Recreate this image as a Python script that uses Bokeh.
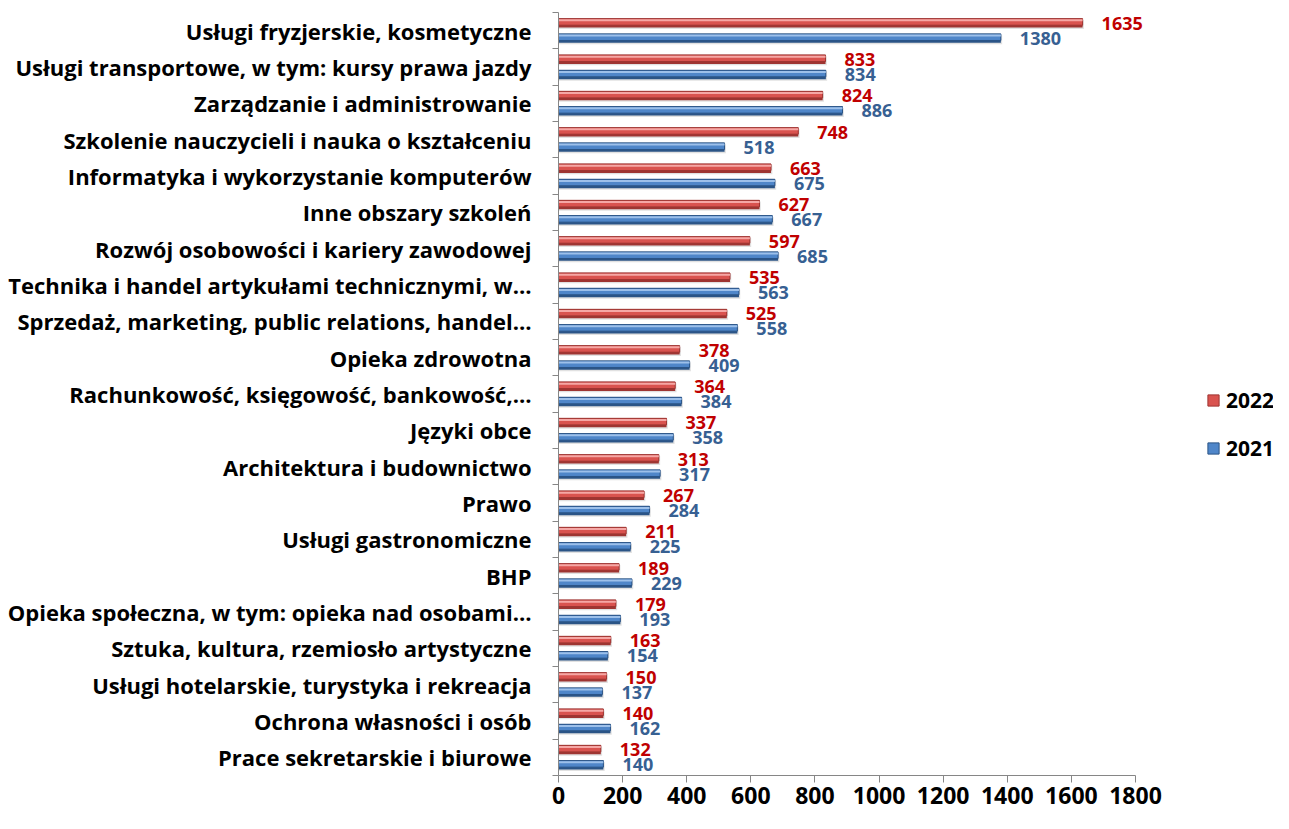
from bokeh.plotting import figure
from bokeh.models import (ColumnDataSource, Range1d, FixedTicker, LabelSet,
                          Legend, LegendItem)
from bokeh.core.properties import value
from bokeh.embed import file_html
from bokeh.resources import INLINE

categories = [
    "Usługi fryzjerskie, kosmetyczne",
    "Usługi transportowe, w tym: kursy prawa jazdy",
    "Zarządzanie i administrowanie",
    "Szkolenie nauczycieli i nauka o kształceniu",
    "Informatyka i wykorzystanie komputerów",
    "Inne obszary szkoleń",
    "Rozwój osobowości i kariery zawodowej",
    "Technika i handel artykułami technicznymi, w…",
    "Sprzedaż, marketing, public relations, handel…",
    "Opieka zdrowotna",
    "Rachunkowość, księgowość, bankowość,…",
    "Języki obce",
    "Architektura i budownictwo",
    "Prawo",
    "Usługi gastronomiczne",
    "BHP",
    "Opieka społeczna, w tym: opieka nad osobami…",
    "Sztuka, kultura, rzemiosło artystyczne",
    "Usługi hotelarskie, turystyka i rekreacja",
    "Ochrona własności i osób",
    "Prace sekretarskie i biurowe",
]
values_2022 = [1635, 833, 824, 748, 663, 627, 597, 535, 525, 378, 364, 337,
               313, 267, 211, 189, 179, 163, 150, 140, 132]
values_2021 = [1380, 834, 886, 518, 675, 667, 685, 563, 558, 409, 384, 358,
               317, 284, 225, 229, 193, 154, 137, 162, 140]
series_names = ["2022", "2021"]
x_ticks = [0, 200, 400, 600, 800, 1000, 1200, 1400, 1600, 1800]

n = len(categories)
centers = [n - 1 - i for i in range(n)]
OFF = 0.21
H = 0.25
FONT = "Open Sans"

W, HT = 1273, 813
LEFT = 558
AXIS_PX = 577            # pixel length of the 0..1800 axis
X_MAX = x_ticks[-1]
x_end = X_MAX * (W - LEFT) / AXIS_PX   # frame extends right to hold the legend

y22 = [c + OFF for c in centers]
y21 = [c - OFF for c in centers]
src22 = ColumnDataSource(dict(y=y22, v=values_2022,
                              lab=[str(v) for v in values_2022]))
src21 = ColumnDataSource(dict(y=y21, v=values_2021,
                              lab=[str(v) for v in values_2021]))

p = figure(width=W, height=HT, output_backend="svg", toolbar_location=None,
           x_range=Range1d(0, x_end), y_range=Range1d(-0.5, n - 0.5),
           min_border_left=LEFT, min_border_right=0, min_border_top=12,
           min_border_bottom=38)
p.outline_line_color = None
p.xgrid.visible = False
p.ygrid.visible = False


def layers(values, ys, dark, mid, light):
    s_sh = ColumnDataSource(dict(y=[y - 0.04 for y in ys], v=[v + 4 for v in values]))
    s_dk = ColumnDataSource(dict(y=ys, v=values))
    s_md = ColumnDataSource(dict(y=[y + H * 0.12 for y in ys], v=values))
    s_lt = ColumnDataSource(dict(y=[y + H * 0.30 for y in ys], v=values))
    p.hbar(y="y", right="v", left=0, height=H, source=s_sh,
           fill_color="#9A9A9A", fill_alpha=0.3, line_color=None)
    p.hbar(y="y", right="v", left=0, height=H, source=s_dk,
           fill_color=dark, line_color=None)
    r = p.hbar(y="y", right="v", left=0, height=H * 0.72, source=s_md,
               fill_color=mid, line_color=dark, line_width=1)
    p.hbar(y="y", right="v", left=0, height=H * 0.22, source=s_lt,
           fill_color=light, line_color=None)
    return r


r22 = layers(values_2022, y22, "#9E3532", "#D9534F", "#F5A7A5")
r21 = layers(values_2021, y21, "#2B5486", "#4F86C9", "#9DC0EA")

for src, col in ((src22, "#C00000"), (src21, "#376092")):
    p.add_layout(LabelSet(x="v", y="y", text="lab", source=src, x_offset=19,
                          text_baseline="middle", text_align="left",
                          text_font=value(FONT), text_font_style="bold",
                          text_font_size="18px", text_color=col))

# x axis
p.xaxis.bounds = (0, X_MAX)
p.xaxis.ticker = FixedTicker(ticks=x_ticks, minor_ticks=[])
p.xaxis.axis_line_color = "#868686"
p.xaxis.major_tick_line_color = "#868686"
p.xaxis.major_tick_in = 0
p.xaxis.major_tick_out = 7
p.xaxis.minor_tick_line_color = None
p.xaxis.major_label_text_font = FONT
p.xaxis.major_label_text_font_style = "bold"
p.xaxis.major_label_text_font_size = "23px"
p.xaxis.major_label_text_color = "black"
p.xaxis.major_label_standoff = 4

# y axis: labels at centres, ticks between categories
boundaries = [c + 0.5 for c in range(-1, n)]
p.yaxis.ticker = FixedTicker(ticks=centers, minor_ticks=boundaries)
p.yaxis.major_label_overrides = {c: categories[i] for i, c in enumerate(centers)}
p.yaxis.axis_line_color = "#868686"
p.yaxis.major_tick_line_color = None
p.yaxis.major_tick_in = 0
p.yaxis.major_tick_out = 0
p.yaxis.minor_tick_line_color = "#868686"
p.yaxis.minor_tick_in = 0
p.yaxis.minor_tick_out = 6
p.yaxis.major_label_text_font = FONT
p.yaxis.major_label_text_font_style = "bold"
p.yaxis.major_label_text_font_size = "22px"
p.yaxis.major_label_text_color = "black"
p.yaxis.major_label_standoff = 21

legend = Legend(items=[LegendItem(label=series_names[0], renderers=[r22]),
                       LegendItem(label=series_names[1], renderers=[r21])],
                location=(648, 313), orientation="vertical",
                label_text_font=FONT, label_text_font_style="bold",
                label_text_font_size="21px", label_text_color="black",
                glyph_width=14, glyph_height=14, spacing=20, padding=2,
                label_standoff=6, border_line_color=None,
                background_fill_alpha=0, margin=0)
p.add_layout(legend)

open("out.html", "w").write(file_html(p, INLINE))
